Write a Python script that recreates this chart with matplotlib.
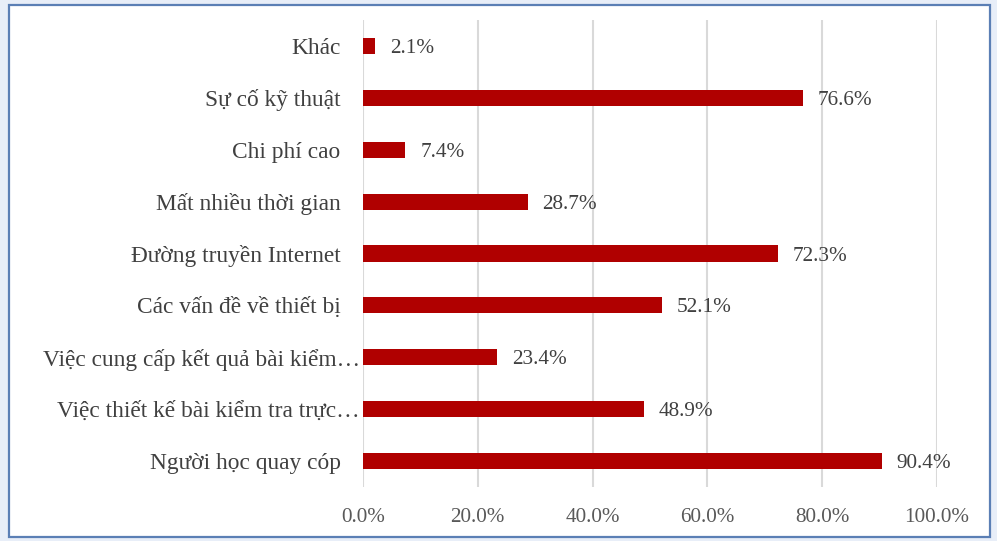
import matplotlib
matplotlib.use("Agg")
import matplotlib.pyplot as plt
from matplotlib.patches import Rectangle
from matplotlib.transforms import ScaledTranslation

categories = [
    "Người học quay cóp",
    "Việc thiết kế bài kiểm tra trực…",
    "Việc cung cấp kết quả bài kiểm…",
    "Các vấn đề về thiết bị",
    "Đường truyền Internet",
    "Mất nhiều thời gian",
    "Chi phí cao",
    "Sự cố kỹ thuật",
    "Khác",
]
values = [90.4, 48.9, 23.4, 52.1, 72.3, 28.7, 7.4, 76.6, 2.1]
xticks = [0, 20, 40, 60, 80, 100]

plt.rcParams['font.family'] = ['Liberation Serif', 'DejaVu Serif']

fig = plt.figure(figsize=(9.97, 5.41), dpi=100)
fig.patch.set_facecolor('#E8EEF8')
frame = Rectangle((0.009, 0.008), 0.984, 0.982, transform=fig.transFigure,
                  facecolor='white', edgecolor='#5B7FB5', linewidth=1.6, zorder=-10)
fig.patches.append(frame)

ax = fig.add_axes([0.364, 0.0998, 0.5758, 0.8632])
ax.set_zorder(5)
ax.set_facecolor('none')
y = list(range(len(categories)))
ax.barh(y, values, height=0.31, color='#B00000', zorder=3)
for yi, v in zip(y, values):
    ax.text(v + 2.6, yi - 0.05, f"{v:.1f}%", va='center', ha='left',
            fontsize=15.3, color='#404040')

ax.set_xlim(0, 100)
ax.set_ylim(-0.5, len(categories) - 0.5)
ax.set_yticks(y)
ax.set_yticklabels(categories, fontsize=16.8, color='#404040')
ax.set_xticks(xticks)
ax.set_xticklabels([f"{t:.1f}%" for t in xticks], fontsize=15.2, color='#595959')
ax.tick_params(axis='both', length=0)
ax.tick_params(axis='y', pad=16)
ax.tick_params(axis='x', pad=15)
ax.xaxis.grid(True, color='#D9D9D9', linewidth=1.5, zorder=0)
ax.set_axisbelow(True)
for s in ax.spines.values():
    s.set_visible(False)

for lbl in ax.get_yticklabels():
    if lbl.get_text().endswith('…'):
        lbl.set_transform(lbl.get_transform() + ScaledTranslation(0.19, 0, fig.dpi_scale_trans))

fig.savefig('out.png', dpi=100, facecolor=fig.get_facecolor())
